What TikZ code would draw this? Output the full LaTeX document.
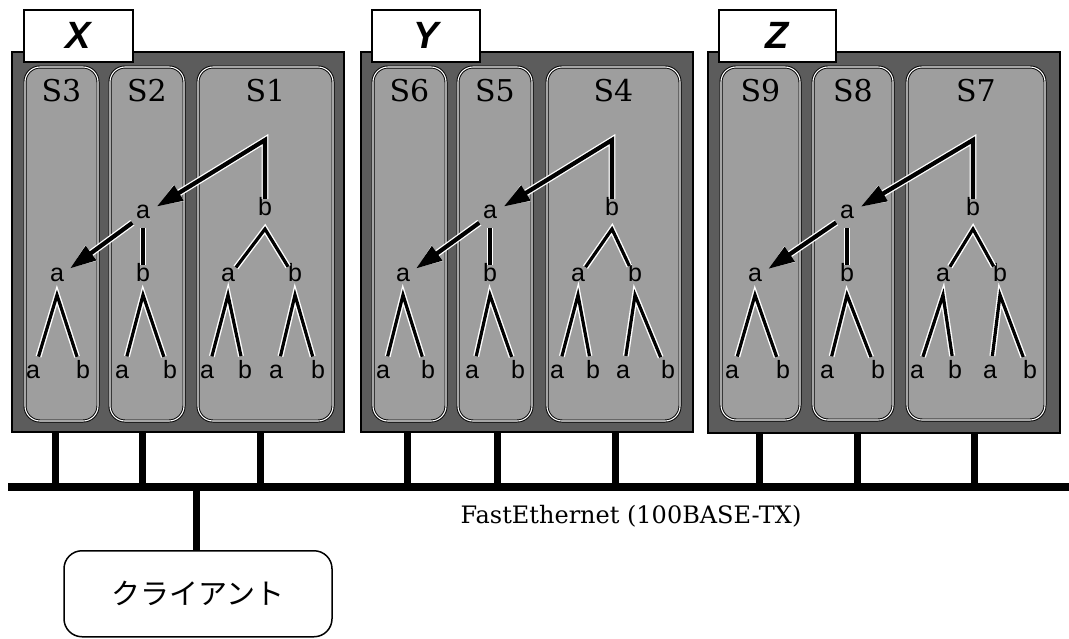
\documentclass[tikz,border=0pt]{standalone}
\usepackage{fontspec}
\usetikzlibrary{arrows.meta,fit,calc}
\newfontfamily\serifl{DejaVu Serif}
\newfontfamily\sansl{Liberation Sans}
\newfontfamily\cjk{Noto Sans CJK JP}
\definecolor{outerg}{gray}{0.36}
\definecolor{innerg}{gray}{0.62}

% rectangular node spanning two corners
\newcommand\rectnode[6]{\node[#1,inner sep=0pt,fit={(#3,#4) (#5,#6)}] (#2) {};}

\tikzset{
  grp/.style={draw=black, line width=2pt, fill=outerg},
  srv/.style={draw=black, line width=3pt, fill=innerg, rounded corners=15pt,
              postaction={draw=white, line width=1.1pt}},
  labbox/.style={draw=black, line width=1.5pt, fill=white, inner sep=0pt,
                 minimum height=52pt, anchor=north west,
                 font=\sansl\bfseries\itshape\fontsize{38}{38}\selectfont},
  slab/.style={font=\serifl\fontsize{30}{30}\selectfont, inner sep=0pt},
  lt/.style={circle, inner sep=0pt, minimum size=26pt,
             font=\sansl\fontsize{25}{25}\selectfont, text height=0.6em, text depth=0pt},
  te/.style={line width=3.2pt, line join=miter, preaction={draw=white, line width=6pt}},
  sh/.style={shorten <=6pt, shorten >=6pt},
  arr/.style={line width=4.2pt, line join=miter, preaction={draw=white, line width=6.8pt},
              -{Triangle[length=26pt,width=17pt]}, shorten >=3pt},
  bus/.style={line width=8pt},
  stub/.style={line width=7pt},
  client/.style={draw=black, line width=1.5pt, rounded corners=18pt, inner sep=0pt,
                 font=\cjk\fontsize{29}{29}\selectfont},
  netlab/.style={font=\serifl\fontsize{24}{24}\selectfont}
}

\begin{document}
\begin{tikzpicture}[x=1pt, y=-1pt]
\useasboundingbox (0,0) rectangle (1069,638);

% ---------------- network bus ----------------
\coordinate (busL) at (8,487);
\coordinate (busR) at (1069,487);
\draw[bus] (busL) -- (busR);

% ---------------- group X ----------------
\rectnode{grp}{gX}{12}{52}{344}{432}
\node[labbox, minimum width=109pt] (lX) at (23,9) {X};
\rectnode{srv}{bS3}{25}{67}{98}{421}
\rectnode{srv}{bS2}{110}{67}{184}{421}
\rectnode{srv}{bS1}{198}{67}{333}{421}
\node[slab] (tS3) at (bS3 |- 0,91) {S3};
\node[slab] (tS2) at (bS2 |- 0,91) {S2};
\node[slab] (tS1) at (bS1 |- 0,91) {S1};
% S3
\node[lt] (x3a) at (57,278) {a};
\node[lt] (x3l) at (33,375) {a};
\node[lt] (x3r) at (83,375) {b};
\draw[te, sh] (x3l) -- ([yshift=-17pt]x3a.center) -- (x3r);
% S2
\node[lt] (x2a) at (143,215) {a};
\node[lt] (x2b) at (143,278) {b};
\node[lt] (x2l) at (122,375) {a};
\node[lt] (x2r) at (170,375) {b};
\draw[te] (x2a) -- (x2b);
\draw[te, sh] (x2l) -- ([yshift=-17pt]x2b.center) -- (x2r);
% S1
\coordinate (x1top) at (265,140);
\node[lt] (x1b) at (265,212) {b};
\node[lt] (x1ca) at (228,278) {a};
\node[lt] (x1cb) at (295,278) {b};
\node[lt] (x1l1) at (207,375) {a};
\node[lt] (x1l2) at (245,375) {b};
\node[lt] (x1l3) at (276,375) {a};
\node[lt] (x1l4) at (318,375) {b};
\draw[te] (x1ca) -- ([yshift=-17pt]x1b.center) -- (x1cb);
\draw[te, sh] (x1l1) -- ([yshift=-17pt]x1ca.center) -- (x1l2);
\draw[te, sh] (x1l3) -- ([yshift=-17pt]x1cb.center) -- (x1l4);
\draw[arr] (x1b) -- (x1top) -- (x2a);
\draw[arr] (x2a) -- (x3a);
% taps
\foreach \n/\x in {x3/55, x2/142, x1/260}{
  \coordinate (\n tap) at (\x,432);
  \draw[stub] (\n tap) -- (\n tap |- busL);
}

% ---------------- group Y ----------------
\rectnode{grp}{gY}{361}{52}{693}{432}
\node[labbox, minimum width=108pt] (lY) at (371,9) {Y};
\rectnode{srv}{bS6}{373}{67}{446}{421}
\rectnode{srv}{bS5}{458}{67}{532}{421}
\rectnode{srv}{bS4}{547}{67}{680}{421}
\node[slab] (tS6) at (bS6 |- 0,91) {S6};
\node[slab] (tS5) at (bS5 |- 0,91) {S5};
\node[slab] (tS4) at (bS4 |- 0,91) {S4};
% S6
\node[lt] (y6a) at (403,278) {a};
\node[lt] (y6l) at (383,375) {a};
\node[lt] (y6r) at (428,375) {b};
\draw[te, sh] (y6l) -- ([yshift=-17pt]y6a.center) -- (y6r);
% S5
\node[lt] (y5a) at (490,215) {a};
\node[lt] (y5b) at (490,278) {b};
\node[lt] (y5l) at (472,375) {a};
\node[lt] (y5r) at (518,375) {b};
\draw[te] (y5a) -- (y5b);
\draw[te, sh] (y5l) -- ([yshift=-17pt]y5b.center) -- (y5r);
% S4
\coordinate (y4top) at (612,140);
\node[lt] (y4b) at (612,212) {b};
\node[lt] (y4ca) at (578,278) {a};
\node[lt] (y4cb) at (635,278) {b};
\node[lt] (y4l1) at (557,375) {a};
\node[lt] (y4l2) at (593,375) {b};
\node[lt] (y4l3) at (623,375) {a};
\node[lt] (y4l4) at (668,375) {b};
\draw[te] (y4ca) -- ([yshift=-17pt]y4b.center) -- (y4cb);
\draw[te, sh] (y4l1) -- ([yshift=-17pt]y4ca.center) -- (y4l2);
\draw[te, sh] (y4l3) -- ([yshift=-17pt]y4cb.center) -- (y4l4);
\draw[arr] (y4b) -- (y4top) -- (y5a);
\draw[arr] (y5a) -- (y6a);
\foreach \n/\x in {y6/407, y5/497, y4/615}{
  \coordinate (\n tap) at (\x,432);
  \draw[stub] (\n tap) -- (\n tap |- busL);
}

% ---------------- group Z ----------------
\rectnode{grp}{gZ}{708}{52}{1060}{433}
\node[labbox, minimum width=117pt] (lZ) at (718,9) {Z};
\rectnode{srv}{bS9}{721}{67}{800}{420}
\rectnode{srv}{bS8}{813}{67}{893}{420}
\rectnode{srv}{bS7}{907}{67}{1045}{420}
\node[slab] (tS9) at (bS9 |- 0,91) {S9};
\node[slab] (tS8) at (bS8 |- 0,91) {S8};
\node[slab] (tS7) at (bS7 |- 0,91) {S7};
% S9
\node[lt] (z9a) at (755,278) {a};
\node[lt] (z9l) at (732,375) {a};
\node[lt] (z9r) at (783,375) {b};
\draw[te, sh] (z9l) -- ([yshift=-17pt]z9a.center) -- (z9r);
% S8
\node[lt] (z8a) at (847,215) {a};
\node[lt] (z8b) at (847,278) {b};
\node[lt] (z8l) at (827,375) {a};
\node[lt] (z8r) at (878,375) {b};
\draw[te] (z8a) -- (z8b);
\draw[te, sh] (z8l) -- ([yshift=-17pt]z8b.center) -- (z8r);
% S7
\coordinate (z7top) at (973,140);
\node[lt] (z7b) at (973,212) {b};
\node[lt] (z7ca) at (943,278) {a};
\node[lt] (z7cb) at (1000,278) {b};
\node[lt] (z7l1) at (917,375) {a};
\node[lt] (z7l2) at (955,375) {b};
\node[lt] (z7l3) at (990,375) {a};
\node[lt] (z7l4) at (1030,375) {b};
\draw[te] (z7ca) -- ([yshift=-17pt]z7b.center) -- (z7cb);
\draw[te, sh] (z7l1) -- ([yshift=-17pt]z7ca.center) -- (z7l2);
\draw[te, sh] (z7l3) -- ([yshift=-17pt]z7cb.center) -- (z7l4);
\draw[arr] (z7b) -- (z7top) -- (z8a);
\draw[arr] (z8a) -- (z9a);
\foreach \n/\x in {z9/759, z8/857, z7/974}{
  \coordinate (\n tap) at (\x,433);
  \draw[stub] (\n tap) -- (\n tap |- busL);
}

% ---------------- client and network label ----------------
\node[netlab, anchor=base] (net) at (631,523) {FastEthernet (100BASE-TX)};
\node[client, minimum width=268pt, minimum height=86pt, anchor=north] (cl) at (198,550) {クライアント};
\coordinate (cltap) at (196,487);
\draw[stub] (cltap) -- (cltap |- cl.north);
\end{tikzpicture}
\end{document}
